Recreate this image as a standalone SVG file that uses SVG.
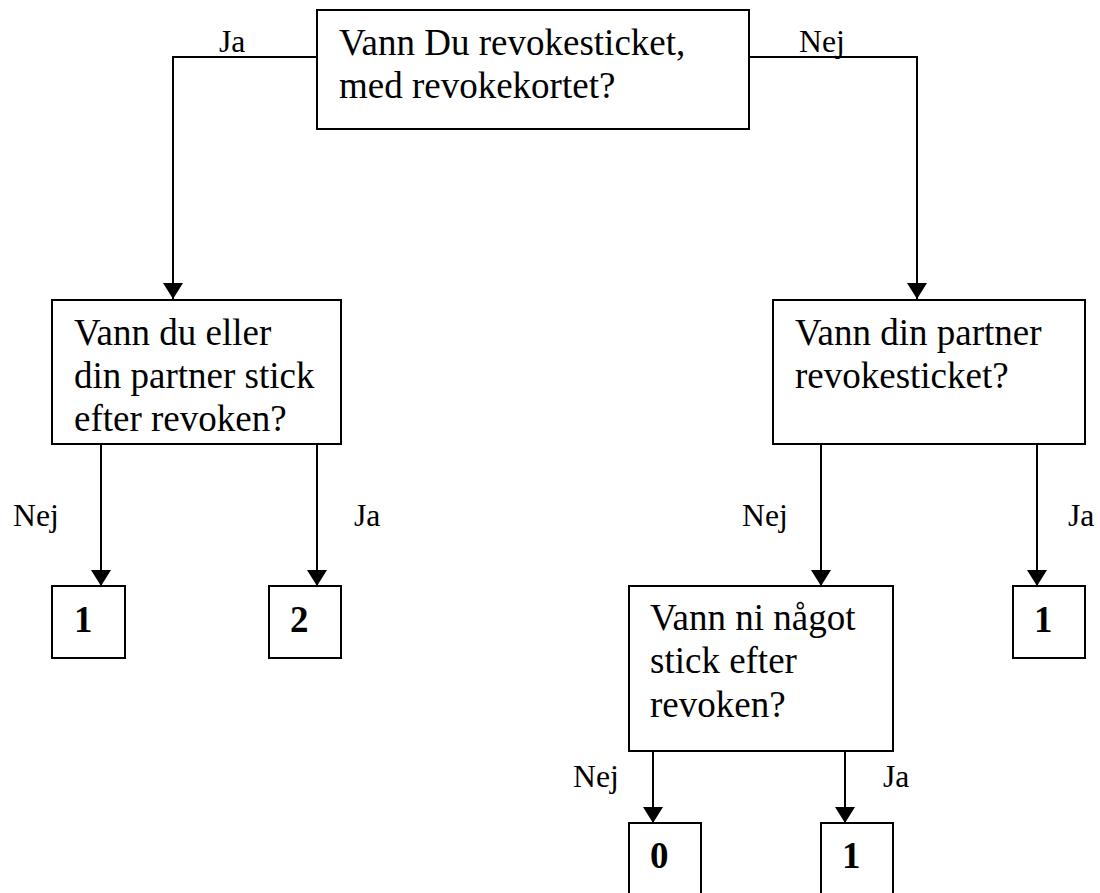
<svg xmlns="http://www.w3.org/2000/svg" width="1100" height="893" viewBox="0 0 1100 893">
<defs>
<marker id="arr" viewBox="0 0 16 20" refX="16" refY="10" markerWidth="16" markerHeight="20" orient="auto" markerUnits="userSpaceOnUse">
<path d="M0,0 L16,10 L0,20 z" fill="#000"/>
</marker>
<style>
.box{fill:#fff;stroke:#000;stroke-width:2}
.q{font-family:"Liberation Serif","Times New Roman",serif;font-size:37px;fill:#000}
.n{font-family:"Liberation Serif","Times New Roman",serif;font-size:37px;font-weight:bold;fill:#000}
.lbl{font-family:"Liberation Serif","Times New Roman",serif;font-size:31.7px;fill:#000}
.c{fill:none;stroke:#000;stroke-width:2}
</style>
</defs>
<rect width="1100" height="893" fill="#fff"/>
<g id="connectors">
<path class="c" d="M317,57 H173 V299" marker-end="url(#arr)"/>
<path class="c" d="M749,57 H917 V299" marker-end="url(#arr)"/>
<path class="c" d="M101,444 V586" marker-end="url(#arr)"/>
<path class="c" d="M317,444 V586" marker-end="url(#arr)"/>
<path class="c" d="M821,444 V586" marker-end="url(#arr)"/>
<path class="c" d="M1037,444 V586" marker-end="url(#arr)"/>
<path class="c" d="M653,751 V823" marker-end="url(#arr)"/>
<path class="c" d="M845,751 V823" marker-end="url(#arr)"/>
<text class="lbl" x="219" y="52">Ja</text>
<text class="lbl" x="799" y="52">Nej</text>
<text class="lbl" x="13" y="526">Nej</text>
<text class="lbl" x="354" y="526">Ja</text>
<text class="lbl" x="742" y="526">Nej</text>
<text class="lbl" x="1068" y="526">Ja</text>
<text class="lbl" x="573" y="787">Nej</text>
<text class="lbl" x="883" y="787">Ja</text>
</g>
<g id="q1">
<rect class="box" x="317" y="10" width="432" height="119"/>
<text class="q" x="339" y="55">Vann Du revokesticket,</text>
<text class="q" x="339" y="98">med revokekortet?</text>
</g>
<g id="q2">
<rect class="box" x="52" y="300" width="289" height="144"/>
<text class="q" x="74" y="345">Vann du eller</text>
<text class="q" x="74" y="388">din partner stick</text>
<text class="q" x="74" y="431">efter revoken?</text>
</g>
<g id="q3">
<rect class="box" x="773" y="300" width="312" height="144"/>
<text class="q" x="795" y="345">Vann din partner</text>
<text class="q" x="795" y="388">revokesticket?</text>
</g>
<g id="r1">
<rect class="box" x="52" y="586" width="73" height="72"/>
<text class="n" x="74" y="632">1</text>
</g>
<g id="r2">
<rect class="box" x="269" y="586" width="72" height="72"/>
<text class="n" x="290" y="632">2</text>
</g>
<g id="q4">
<rect class="box" x="629" y="586" width="264" height="165"/>
<text class="q" x="650" y="630">Vann ni något</text>
<text class="q" x="650" y="673">stick efter</text>
<text class="q" x="650" y="717">revoken?</text>
</g>
<g id="r3">
<rect class="box" x="1013" y="586" width="72" height="72"/>
<text class="n" x="1034" y="632">1</text>
</g>
<g id="r4">
<rect class="box" x="629" y="823" width="72" height="80"/>
<text class="n" x="650" y="868">0</text>
</g>
<g id="r5">
<rect class="box" x="821" y="823" width="72" height="80"/>
<text class="n" x="842" y="868">1</text>
</g>
</svg>
